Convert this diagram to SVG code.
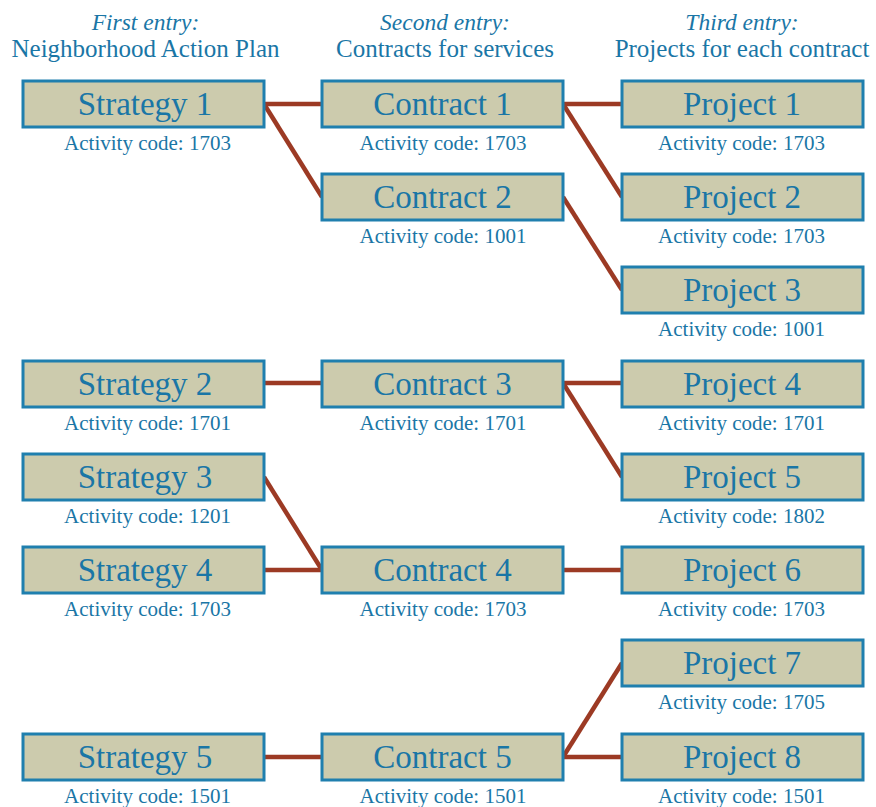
<svg xmlns="http://www.w3.org/2000/svg" width="876" height="807" viewBox="0 0 876 807">
<style>
.box{fill:#cccbad;stroke:#1f7fae;stroke-width:3}
.t{font-family:"Liberation Serif",serif;font-size:33px;fill:#1a76a6;text-anchor:middle}
.c{font-family:"Liberation Serif",serif;font-size:21px;fill:#1a76a6;text-anchor:middle}
.h{font-family:"Liberation Serif",serif;font-size:25px;fill:#1a76a6;text-anchor:middle}
.hi{font-style:italic;font-size:23.5px}
.ln{stroke:#9c3a24;stroke-width:4.5;fill:none}
</style>
<rect width="876" height="807" fill="#fff"/>
<g id="headers">
<text class="h hi" x="145.5" y="30">First entry:</text>
<text class="h" x="145.5" y="57">Neighborhood Action Plan</text>
<text class="h hi" x="445" y="30">Second entry:</text>
<text class="h" x="445" y="57">Contracts for services</text>
<text class="h hi" x="742" y="30">Third entry:</text>
<text class="h" x="742" y="57">Projects for each contract</text>
</g>
<g id="connectors">
<line class="ln" x1="264" y1="104" x2="322" y2="104"/>
<line class="ln" x1="264" y1="104" x2="322" y2="197"/>
<line class="ln" x1="563" y1="104" x2="622" y2="104"/>
<line class="ln" x1="563" y1="104" x2="622" y2="197"/>
<line class="ln" x1="563" y1="197" x2="622" y2="290"/>
<line class="ln" x1="264" y1="383" x2="322" y2="383"/>
<line class="ln" x1="563" y1="383" x2="622" y2="383"/>
<line class="ln" x1="563" y1="383" x2="622" y2="477"/>
<line class="ln" x1="264" y1="477" x2="322" y2="570"/>
<line class="ln" x1="264" y1="570" x2="322" y2="570"/>
<line class="ln" x1="563" y1="570" x2="622" y2="570"/>
<line class="ln" x1="264" y1="757" x2="322" y2="757"/>
<line class="ln" x1="563" y1="757" x2="622" y2="757"/>
<line class="ln" x1="563" y1="757" x2="622" y2="663"/>
</g>
<g id="strategy1"><rect class="box" x="23" y="81" width="241" height="46"/><text class="t" x="145" y="115">Strategy 1</text><text class="c" x="147.5" y="150">Activity code: 1703</text></g>
<g id="strategy2"><rect class="box" x="23" y="361" width="241" height="46"/><text class="t" x="145" y="395">Strategy 2</text><text class="c" x="147.5" y="430">Activity code: 1701</text></g>
<g id="strategy3"><rect class="box" x="23" y="454" width="241" height="46"/><text class="t" x="145" y="488">Strategy 3</text><text class="c" x="147.5" y="523">Activity code: 1201</text></g>
<g id="strategy4"><rect class="box" x="23" y="547" width="241" height="46"/><text class="t" x="145" y="581">Strategy 4</text><text class="c" x="147.5" y="616">Activity code: 1703</text></g>
<g id="strategy5"><rect class="box" x="23" y="734" width="241" height="46"/><text class="t" x="145" y="768">Strategy 5</text><text class="c" x="147.5" y="803">Activity code: 1501</text></g>
<g id="contract1"><rect class="box" x="322" y="81" width="241" height="46"/><text class="t" x="442.5" y="115">Contract 1</text><text class="c" x="443" y="150">Activity code: 1703</text></g>
<g id="contract2"><rect class="box" x="322" y="174" width="241" height="46"/><text class="t" x="442.5" y="208">Contract 2</text><text class="c" x="443" y="243">Activity code: 1001</text></g>
<g id="contract3"><rect class="box" x="322" y="361" width="241" height="46"/><text class="t" x="442.5" y="395">Contract 3</text><text class="c" x="443" y="430">Activity code: 1701</text></g>
<g id="contract4"><rect class="box" x="322" y="547" width="241" height="46"/><text class="t" x="442.5" y="581">Contract 4</text><text class="c" x="443" y="616">Activity code: 1703</text></g>
<g id="contract5"><rect class="box" x="322" y="734" width="241" height="46"/><text class="t" x="442.5" y="768">Contract 5</text><text class="c" x="443" y="803">Activity code: 1501</text></g>
<g id="project1"><rect class="box" x="622" y="81" width="241" height="46"/><text class="t" x="742" y="115">Project 1</text><text class="c" x="741.5" y="150">Activity code: 1703</text></g>
<g id="project2"><rect class="box" x="622" y="174" width="241" height="46"/><text class="t" x="742" y="208">Project 2</text><text class="c" x="741.5" y="243">Activity code: 1703</text></g>
<g id="project3"><rect class="box" x="622" y="267" width="241" height="46"/><text class="t" x="742" y="301">Project 3</text><text class="c" x="741.5" y="336">Activity code: 1001</text></g>
<g id="project4"><rect class="box" x="622" y="361" width="241" height="46"/><text class="t" x="742" y="395">Project 4</text><text class="c" x="741.5" y="430">Activity code: 1701</text></g>
<g id="project5"><rect class="box" x="622" y="454" width="241" height="46"/><text class="t" x="742" y="488">Project 5</text><text class="c" x="741.5" y="523">Activity code: 1802</text></g>
<g id="project6"><rect class="box" x="622" y="547" width="241" height="46"/><text class="t" x="742" y="581">Project 6</text><text class="c" x="741.5" y="616">Activity code: 1703</text></g>
<g id="project7"><rect class="box" x="622" y="640" width="241" height="46"/><text class="t" x="742" y="674">Project 7</text><text class="c" x="741.5" y="709">Activity code: 1705</text></g>
<g id="project8"><rect class="box" x="622" y="734" width="241" height="46"/><text class="t" x="742" y="768">Project 8</text><text class="c" x="741.5" y="803">Activity code: 1501</text></g>
</svg>
